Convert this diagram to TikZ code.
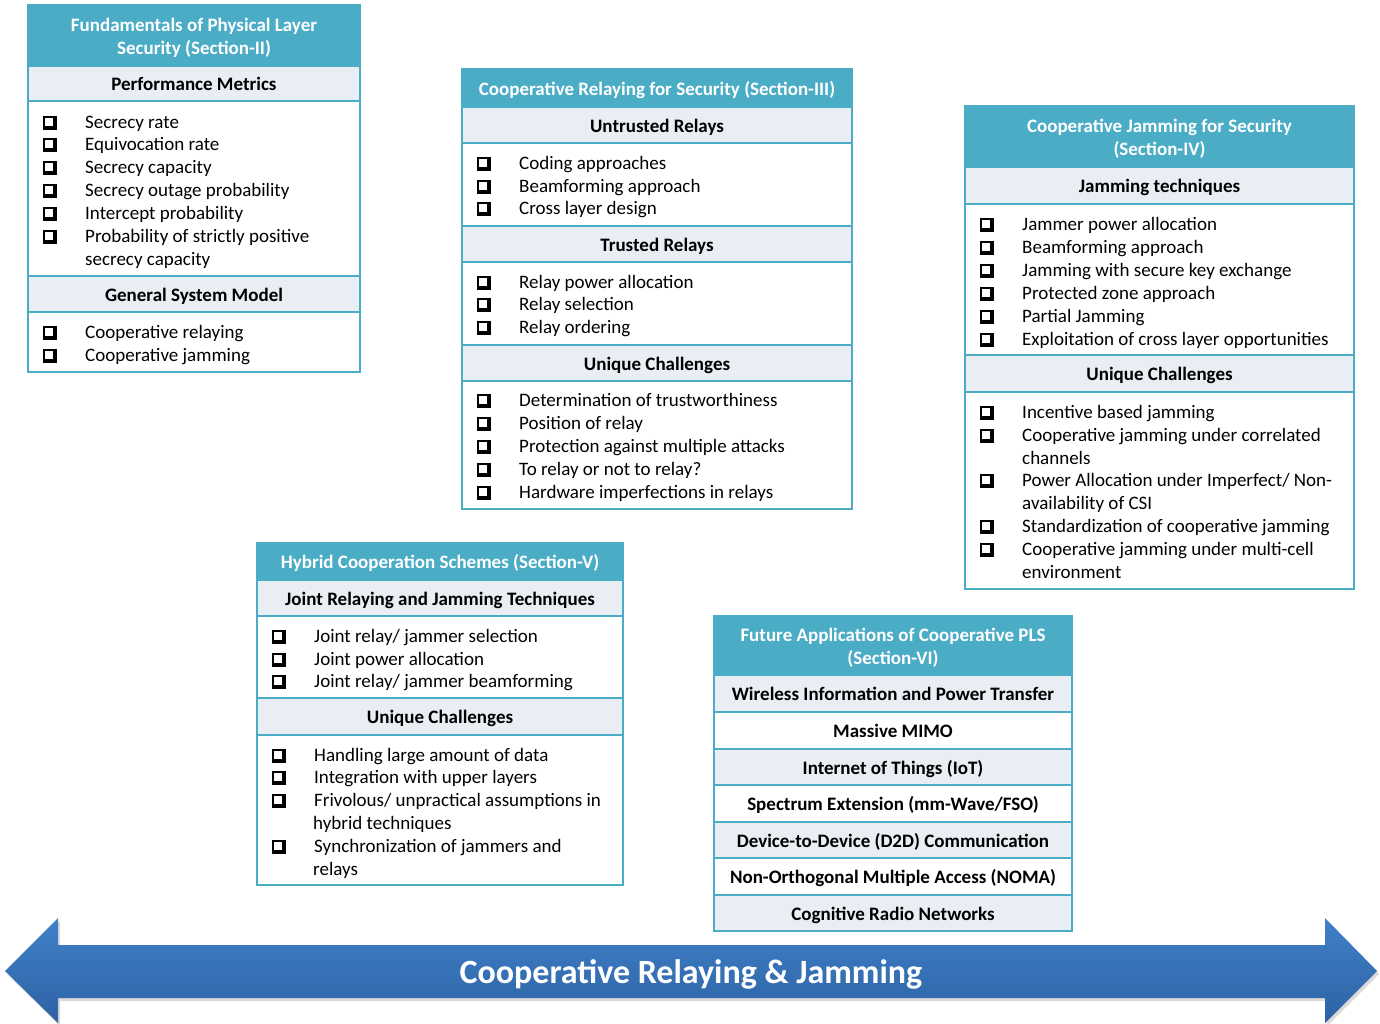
\documentclass[tikz,border=0pt]{standalone}
\usepackage{fontspec}
\setmainfont{Carlito}
\definecolor{hcol}{HTML}{4BACC6}
\definecolor{scol}{HTML}{E8EEF3}
\definecolor{atop}{HTML}{3F80C8}
\definecolor{abot}{HTML}{2E62A4}
\newcommand\cbx{\raisebox{-1pt}{\rule{13.5pt}{13.5pt}}\kern-11.7pt\raisebox{2.4pt}{\color{white}\rule{8.2pt}{8.2pt}}\kern3.5pt}
\newcommand\bstrut{\rule[-4.4pt]{0pt}{23pt}}
\newcommand\band[7]{\node[#2, minimum width={#5-#3}, minimum height={#6-#4}, anchor=north west] (#1) at (#3,#4) {\bstrut #7\bstrut};}
\newcommand\itm[3]{\node[itm] (#1) at (#2) {\makebox[42pt][l]{\cbx}#3\strut};}
\newcommand\cnt[3]{\node[itm] (#1) at (#2) {#3\strut};}
\begin{document}
\begin{tikzpicture}[x=1pt,y=-1pt,
  every node/.style={font=\fontsize{19}{23}\selectfont},
  base/.style={draw=hcol, line width=1.6pt, inner sep=0pt, outer sep=0pt},
  hdr/.style={base, fill=hcol, text=white, font=\fontsize{19}{23}\selectfont\bfseries, align=center},
  sub/.style={base, fill=scol, font=\fontsize{19}{23}\selectfont\bfseries},
  bod/.style={base, fill=white},
  itm/.style={anchor=west, inner sep=0pt, yshift=-3pt}]
\useasboundingbox (0,0) rectangle (1380,1023);

% ---- Box 1
\band{h1}{hdr}{28}{5}{360}{66}{Fundamentals of Physical Layer\\Security (Section-II)}
\band{s1a}{sub}{28}{66}{360}{101}{Performance Metrics}
\band{b1a}{bod}{28}{101}{360}{276}{}
\band{s1b}{sub}{28}{276}{360}{312}{General System Model}
\band{b1b}{bod}{28}{312}{360}{372}{}
\itm{i1a}{43,121}{Secrecy rate}
\itm{i1b}{43,143}{Equivocation rate}
\itm{i1c}{43,166}{Secrecy capacity}
\itm{i1d}{43,189}{Secrecy outage probability}
\itm{i1e}{43,212}{Intercept probability}
\itm{i1f}{43,235}{Probability of strictly positive}
\cnt{i1g}{85,258}{secrecy capacity}
\itm{i1h}{43,331}{Cooperative relaying}
\itm{i1i}{43,354}{Cooperative jamming}

% ---- Box 2
\band{h2}{hdr}{462}{69}{852}{107}{Cooperative Relaying for Security (Section-III)}
\band{s2a}{sub}{462}{107}{852}{143}{Untrusted Relays}
\band{b2a}{bod}{462}{143}{852}{226}{}
\band{s2b}{sub}{462}{226}{852}{262}{Trusted Relays}
\band{b2b}{bod}{462}{262}{852}{345}{}
\band{s2c}{sub}{462}{345}{852}{381}{Unique Challenges}
\band{b2c}{bod}{462}{381}{852}{509}{}
\itm{i2a}{477,162}{Coding approaches}
\itm{i2b}{477,185}{Beamforming approach}
\itm{i2c}{477,207}{Cross layer design}
\itm{i2d}{477,281}{Relay power allocation}
\itm{i2e}{477,303}{Relay selection}
\itm{i2f}{477,326}{Relay ordering}
\itm{i2g}{477,399}{Determination of trustworthiness}
\itm{i2h}{477,422}{Position of relay}
\itm{i2i}{477,445}{Protection against multiple attacks}
\itm{i2j}{477,468}{To relay or not to relay?}
\itm{i2k}{477,491}{Hardware imperfections in relays}

% ---- Box 3
\band{h3}{hdr}{965}{106}{1354}{167}{Cooperative Jamming for Security\\(Section-IV)}
\band{s3a}{sub}{965}{167}{1354}{204}{Jamming techniques}
\band{b3a}{bod}{965}{204}{1354}{355}{}
\band{s3b}{sub}{965}{355}{1354}{392}{Unique Challenges}
\band{b3b}{bod}{965}{392}{1354}{589}{}
\itm{i3a}{980,223}{Jammer power allocation}
\itm{i3b}{980,246}{Beamforming approach}
\itm{i3c}{980,269}{Jamming with secure key exchange}
\itm{i3d}{980,292}{Protected zone approach}
\itm{i3e}{980,315}{Partial Jamming}
\itm{i3f}{980,338}{Exploitation of cross layer opportunities}
\itm{i3g}{980,411}{Incentive based jamming}
\itm{i3h}{980,434}{Cooperative jamming under correlated}
\cnt{i3i}{1022,457}{channels}
\itm{i3j}{980,479}{Power Allocation under Imperfect/ Non-}
\cnt{i3k}{1022,502}{availability of CSI}
\itm{i3l}{980,525}{Standardization of cooperative jamming}
\itm{i3m}{980,548}{Cooperative jamming under multi-cell}
\cnt{i3n}{1022,571}{environment}

% ---- Box 4
\band{h4}{hdr}{257}{543}{623}{580}{Hybrid Cooperation Schemes (Section-V)}
\band{s4a}{sub}{257}{580}{623}{616}{Joint Relaying and Jamming Techniques}
\band{b4a}{bod}{257}{616}{623}{698}{}
\band{s4b}{sub}{257}{698}{623}{735}{Unique Challenges}
\band{b4b}{bod}{257}{735}{623}{885}{}
\itm{i4a}{272,635}{Joint relay/ jammer selection}
\itm{i4b}{272,658}{Joint power allocation}
\itm{i4c}{272,680}{Joint relay/ jammer beamforming}
\itm{i4d}{272,754}{Handling large amount of data}
\itm{i4e}{272,776}{Integration with upper layers}
\itm{i4f}{272,799}{Frivolous/ unpractical assumptions in}
\cnt{i4g}{313,822}{hybrid techniques}
\itm{i4h}{272,845}{Synchronization of jammers and}
\cnt{i4i}{313,868}{relays}

% ---- Box 5
\band{h5}{hdr}{714}{616}{1072}{675}{Future Applications of Cooperative PLS\\(Section-VI)}
\band{r1}{sub}{714}{675}{1072}{712}{Wireless Information and Power Transfer}
\band{r2}{sub,fill=white}{714}{712}{1072}{749}{Massive MIMO}
\band{r3}{sub}{714}{749}{1072}{785}{Internet of Things (IoT)}
\band{r4}{sub,fill=white}{714}{785}{1072}{822}{Spectrum Extension (mm-Wave/FSO)}
\band{r5}{sub}{714}{822}{1072}{858}{Device-to-Device (D2D) Communication}
\band{r6}{sub,fill=white}{714}{858}{1072}{895}{Non-Orthogonal Multiple Access (NOMA)}
\band{r7}{sub}{714}{895}{1072}{931}{Cognitive Radio Networks}

% ---- Arrow
\fill[black!15] (7,974) -- (60,921) -- (60,948) -- (1327,948) -- (1327,921) -- (1379,974) -- (1327,1026) -- (1327,1001) -- (60,1001) -- (60,1026) -- cycle;
\shade[top color=atop, bottom color=abot] (5,971) -- (58,918) -- (58,945) -- (1325,945) -- (1325,918) -- (1377,971) -- (1325,1023) -- (1325,998) -- (58,998) -- (58,1023) -- cycle;
\node[text=white, font=\fontsize{34}{40}\selectfont\bfseries] (title) at (691,974) {Cooperative Relaying \& Jamming};
\end{tikzpicture}
\end{document}
